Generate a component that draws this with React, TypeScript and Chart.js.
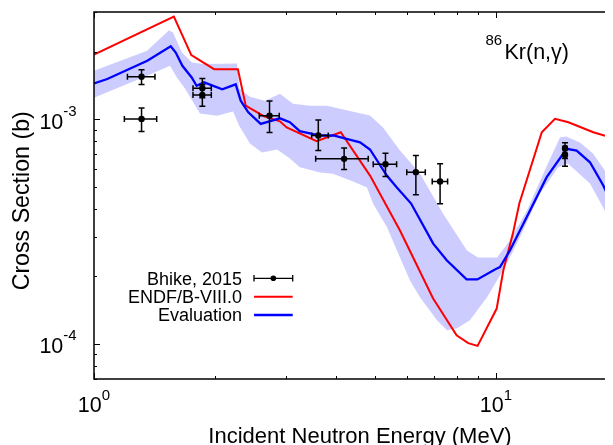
import { useEffect, useRef } from 'react';
import { Chart, registerables } from 'chart.js';

Chart.register(...registerables);

// ---------------- data ----------------
// ENDF/B-VIII.0 (red)
const endfE = [1.0, 1.58, 1.746, 1.99, 2.28, 2.385, 2.443, 2.65, 2.9, 3.015, 3.58, 4.11, 4.86, 5.77, 6.97, 7.98, 8.53, 9.0, 10.04, 10.43, 11.02, 11.43, 13.0, 14.02, 15.14, 17.46, 18.86, 20.0];
const endfXS = [1.94e-3, 2.86e-3, 1.93e-3, 1.67e-3, 1.67e-3, 1.15e-3, 1.12e-3, 1.03e-3, 9.8e-4, 9.2e-4, 7.99e-4, 8.76e-4, 5.62e-4, 3.2e-4, 1.6e-4, 1.096e-4, 1.01e-4, 9.83e-5, 1.44e-4, 2.13e-4, 3.11e-4, 4.22e-4, 8.76e-4, 1.004e-3, 9.7e-4, 8.76e-4, 8.4e-4, 8.4e-4];

// Evaluation (blue)
const evalE = [1.0, 1.079, 1.357, 1.552, 1.597, 1.659, 1.75, 1.80, 1.878, 2.085, 2.252, 2.317, 2.42, 2.598, 2.90, 3.07, 3.25, 3.65, 3.94, 4.25, 4.59, 4.86, 5.35, 5.66, 6.15, 6.98, 7.54, 8.45, 8.99, 9.94, 10.23, 10.83, 11.92, 13.37, 14.99, 15.87, 17.13, 18.49, 19.58, 20.0];
const evalXS = [1.445e-3, 1.51e-3, 1.82e-3, 2.11e-3, 1.98e-3, 1.73e-3, 1.535e-3, 1.41e-3, 1.46e-3, 1.36e-3, 1.43e-3, 1.21e-3, 1.074e-3, 9.54e-4, 1.01e-3, 9.7e-4, 8.85e-4, 8.47e-4, 8.47e-4, 8.18e-4, 7.9e-4, 7.34e-4, 5.62e-4, 4.99e-4, 4.22e-4, 2.8e-4, 2.36e-4, 1.94e-4, 1.94e-4, 2.15e-4, 2.2e-4, 2.61e-4, 3.67e-4, 5.53e-4, 7.39e-4, 7.26e-4, 6.44e-4, 5.08e-4, 4.07e-4, 3.7e-4];

// Evaluation uncertainty band
const bandUpE = [1.0, 1.355, 1.537, 1.572, 1.655, 1.753, 1.867, 2.268, 2.301, 2.443, 2.663, 2.90, 3.126, 3.446, 3.80, 4.33, 4.86, 5.236, 5.77, 6.47, 7.38, 8.47, 9.02, 10.06, 10.83, 11.94, 13.39, 14.43, 14.94, 16.18, 17.43, 18.88, 20.0];
const bandUpXS = [1.645e-3, 2.02e-3, 2.49e-3, 2.43e-3, 1.98e-3, 1.79e-3, 1.76e-3, 1.77e-3, 1.369e-3, 1.26e-3, 1.21e-3, 1.30e-3, 1.174e-3, 1.15e-3, 1.15e-3, 1.09e-3, 1.04e-3, 9.19e-4, 7.26e-4, 5.74e-4, 3.81e-4, 2.61e-4, 2.43e-4, 2.43e-4, 2.89e-4, 3.93e-4, 6.23e-4, 8.29e-4, 8.38e-4, 7.88e-4, 7.04e-4, 5.74e-4, 4.58e-4];
const bandLoE = [1.0, 1.355, 1.546, 1.609, 1.684, 1.835, 2.023, 2.218, 2.295, 2.443, 2.617, 2.853, 3.073, 3.25, 3.65, 3.93, 4.41, 4.776, 4.943, 5.356, 5.77, 6.11, 6.47, 7.13, 7.55, 8.0, 8.61, 9.5, 10.06, 10.65, 11.47, 12.87, 14.27, 15.1, 17.13, 18.46, 20.0];
const bandLoXS = [1.248e-3, 1.563e-3, 1.731e-3, 1.531e-3, 1.369e-3, 1.06e-3, 1.038e-3, 1.082e-3, 9.38e-4, 7.8e-4, 7.11e-4, 7.34e-4, 6.69e-4, 6.12e-4, 5.8e-4, 5.72e-4, 5.29e-4, 4.97e-4, 4.22e-4, 3.31e-4, 2.43e-4, 1.92e-4, 1.616e-4, 1.278e-4, 1.154e-4, 1.178e-4, 1.278e-4, 1.616e-4, 1.92e-4, 2.29e-4, 2.985e-4, 4.68e-4, 6.1e-4, 6.36e-4, 5.18e-4, 4.06e-4, 3.05e-4];

// Bhike, 2015 measurements
const bhikeE = [1.313, 1.313, 1.86, 1.86, 2.733, 3.614, 4.19, 5.31, 6.32, 7.26, 14.85, 14.85];
const bhikeXS = [1.547e-3, 1.004e-3, 1.375e-3, 1.283e-3, 1.038e-3, 8.47e-4, 6.67e-4, 6.31e-4, 5.82e-4, 5.29e-4, 7.43e-4, 6.95e-4];
const bhikeELo = [1.211, 1.19, 1.763, 1.763, 2.577, 3.479, 3.56, 4.95, 5.998, 6.94, 14.7, 14.7];
const bhikeEHi = [1.418, 1.432, 1.958, 1.958, 2.89, 3.826, 4.81, 5.66, 6.67, 7.58, 15.0, 15.0];
const bhikeXSLo = [1.427e-3, 8.82e-4, 1.248e-3, 1.142e-3, 8.73e-4, 7.26e-4, 5.98e-4, 5.57e-4, 4.62e-4, 4.21e-4, 6.7e-4, 6.19e-4];
const bhikeXSHi = [1.662e-3, 1.124e-3, 1.52e-3, 1.426e-3, 1.205e-3, 9.94e-4, 7.46e-4, 7.06e-4, 6.9e-4, 6.34e-4, 7.86e-4, 7.4e-4];

// axes
const X_MIN = 1;
const X_MAX = 20;
const Y_MIN = 7e-5;
const Y_MAX = 3e-3;
const X_DECADES = [0, 1];
const Y_DECADES = [-5, -4, -3];

const legendLabels = ['Bhike, 2015', 'ENDF/B-VIII.0', 'Evaluation'];
const xTitle = 'Incident Neutron Energy (MeV)';
const yTitle = 'Cross Section (b)';
const plotTitleSup = '86';
const plotTitleMain = 'Kr(n,\u03b3)';

const RED = '#ff0000';
const BLUE = '#0000ff';
const BAND = 'rgba(0,0,255,0.2)';
const FONT = '"Liberation Sans", Arial, Helvetica, sans-serif';

const pts = (xs: number[], ys: number[]) => xs.map((x, i) => ({ x, y: ys[i] }));

function drawPow(ctx: CanvasRenderingContext2D, base: string, exp: string, x: number, y: number, align: 'left' | 'center', mainSize: number, supSize: number, raise: number) {
  ctx.font = `${mainSize}px ${FONT}`;
  const w1 = ctx.measureText(base).width;
  ctx.font = `${supSize}px ${FONT}`;
  const w2 = ctx.measureText(exp).width;
  const x0 = align === 'center' ? x - (w1 + w2) / 2 : x;
  ctx.textAlign = 'left';
  ctx.textBaseline = 'alphabetic';
  ctx.font = `${mainSize}px ${FONT}`;
  ctx.fillText(base, x0, y);
  ctx.font = `${supSize}px ${FONT}`;
  ctx.fillText(exp, x0 + w1, y - raise);
}

const decorations = {
  id: 'decorations',
  afterDatasetsDraw(chart: any) {
    const ctx: CanvasRenderingContext2D = chart.ctx;
    const xs = chart.scales.x;
    const ys = chart.scales.y;
    ctx.save();
    ctx.strokeStyle = '#000';
    ctx.lineWidth = 1.5;
    const cap = 3;
    for (let i = 0; i < bhikeE.length; i++) {
      const px = xs.getPixelForValue(bhikeE[i]);
      const py = ys.getPixelForValue(bhikeXS[i]);
      const xl = xs.getPixelForValue(bhikeELo[i]);
      const xh = xs.getPixelForValue(bhikeEHi[i]);
      const yl = ys.getPixelForValue(bhikeXSLo[i]);
      const yh = ys.getPixelForValue(bhikeXSHi[i]);
      ctx.beginPath();
      ctx.moveTo(px, yl); ctx.lineTo(px, yh);
      ctx.moveTo(px - cap, yl); ctx.lineTo(px + cap, yl);
      ctx.moveTo(px - cap, yh); ctx.lineTo(px + cap, yh);
      ctx.moveTo(xl, py); ctx.lineTo(xh, py);
      ctx.moveTo(xl, py - cap); ctx.lineTo(xl, py + cap);
      ctx.moveTo(xh, py - cap); ctx.lineTo(xh, py + cap);
      ctx.stroke();
    }
    ctx.restore();
  },
  afterDraw(chart: any) {
    const ctx: CanvasRenderingContext2D = chart.ctx;
    const a = chart.chartArea;
    const xs = chart.scales.x;
    const ys = chart.scales.y;
    ctx.save();
    ctx.fillStyle = '#000';
    ctx.strokeStyle = '#000';

    // ticks (inward, mirrored)
    ctx.lineWidth = 1;
    ctx.beginPath();
    for (const d of X_DECADES) {
      for (let k = 1; k <= 9; k++) {
        const v = k * Math.pow(10, d);
        if (v < X_MIN || v > X_MAX) continue;
        const p = Math.round(xs.getPixelForValue(v)) + 0.5;
        const len = k === 1 ? 6 : 3;
        ctx.moveTo(p, a.bottom); ctx.lineTo(p, a.bottom - len);
        ctx.moveTo(p, a.top); ctx.lineTo(p, a.top + len);
      }
    }
    for (const d of Y_DECADES) {
      for (let k = 1; k <= 9; k++) {
        const v = k * Math.pow(10, d);
        if (v < Y_MIN * 0.999 || v > Y_MAX * 1.001) continue;
        const p = Math.round(ys.getPixelForValue(v)) + 0.5;
        const len = k === 1 ? 6 : 3;
        ctx.moveTo(a.left, p); ctx.lineTo(a.left + len, p);
        ctx.moveTo(a.right, p); ctx.lineTo(a.right - len, p);
      }
    }
    ctx.stroke();

    // frame
    ctx.lineWidth = 1.5;
    ctx.strokeRect(a.left, a.top, a.right - a.left, a.bottom - a.top);

    // tick labels
    for (const d of X_DECADES) {
      const v = Math.pow(10, d);
      if (v < X_MIN || v > X_MAX) continue;
      drawPow(ctx, '10', String(d), xs.getPixelForValue(v), a.bottom + 32.7, 'center', 21.5, 15, 12);
    }
    for (const d of Y_DECADES) {
      const v = Math.pow(10, d);
      if (v < Y_MIN || v > Y_MAX) continue;
      drawPow(ctx, '10', String(d), 31.4, ys.getPixelForValue(v) + 9.3, 'left', 21.5, 15, 13);
    }

    // axis titles
    ctx.font = `22px ${FONT}`;
    ctx.textAlign = 'center';
    ctx.textBaseline = 'alphabetic';
    ctx.fillText(xTitle, 352, 435.3);

    ctx.save();
    ctx.translate(14.5, 192.8);
    ctx.rotate(-Math.PI / 2);
    ctx.font = `23.2px ${FONT}`;
    ctx.textBaseline = 'middle';
    ctx.fillText(yTitle, 0, 0);
    ctx.restore();

    // plot title 86Kr(n,γ)
    ctx.textAlign = 'left';
    ctx.textBaseline = 'alphabetic';
    ctx.font = `15px ${FONT}`;
    ctx.fillText(plotTitleSup, 477.5, 37);
    ctx.font = `21.5px ${FONT}`;
    ctx.fillText(plotTitleMain, 496.5, 51);

    // legend
    const rows = [270.3, 288.7, 307];
    const tx = 234;
    const s0 = 246;
    const s1 = 284.7;
    ctx.font = `18px ${FONT}`;
    ctx.textAlign = 'right';
    legendLabels.forEach((lbl, i) => {
      ctx.fillStyle = '#000';
      ctx.fillText(lbl, tx, rows[i] + 6.4);
    });
    // sample: errorbar
    ctx.strokeStyle = '#000';
    ctx.lineWidth = 1.3;
    ctx.beginPath();
    ctx.moveTo(s0, rows[0]); ctx.lineTo(s1, rows[0]);
    ctx.moveTo(s0, rows[0] - 3.3); ctx.lineTo(s0, rows[0] + 3.3);
    ctx.moveTo(s1, rows[0] - 3.3); ctx.lineTo(s1, rows[0] + 3.3);
    ctx.stroke();
    ctx.beginPath();
    ctx.arc((s0 + s1) / 2, rows[0], 2.8, 0, Math.PI * 2);
    ctx.fillStyle = '#000';
    ctx.fill();
    ctx.lineWidth = 2;
    ctx.strokeStyle = RED;
    ctx.beginPath();
    ctx.moveTo(s0, rows[1]); ctx.lineTo(s1, rows[1]);
    ctx.stroke();
    ctx.lineWidth = 2.3;
    ctx.strokeStyle = BLUE;
    ctx.beginPath();
    ctx.moveTo(s0, rows[2]); ctx.lineTo(s1, rows[2]);
    ctx.stroke();

    ctx.restore();
  },
};

export default function App() {
  const ref = useRef<HTMLCanvasElement>(null);
  useEffect(() => {
    const canvas = ref.current;
    if (!canvas) return;
    const chart = new Chart(canvas, {
      type: 'line',
      data: {
        datasets: [
          {
            label: legendLabels[0],
            data: pts(bhikeE, bhikeXS),
            showLine: false,
            pointRadius: 3.2,
            pointBackgroundColor: '#000',
            pointBorderColor: '#000',
            pointBorderWidth: 0,
          },
          {
            label: legendLabels[2],
            data: pts(evalE, evalXS),
            borderColor: BLUE,
            borderWidth: 2.3,
            pointRadius: 0,
            fill: false,
            tension: 0,
          },
          {
            label: legendLabels[1],
            data: pts(endfE, endfXS),
            borderColor: RED,
            borderWidth: 2,
            pointRadius: 0,
            fill: false,
            tension: 0,
          },
          {
            label: 'band upper',
            data: pts(bandUpE, bandUpXS),
            borderWidth: 0,
            borderColor: 'rgba(0,0,0,0)',
            backgroundColor: BAND,
            pointRadius: 0,
            fill: '+1',
            tension: 0,
          },
          {
            label: 'band lower',
            data: pts(bandLoE, bandLoXS),
            borderWidth: 0,
            borderColor: 'rgba(0,0,0,0)',
            pointRadius: 0,
            fill: false,
            tension: 0,
          },
        ],
      },
      options: {
        responsive: false,
        animation: false,
        devicePixelRatio: 1,
        layout: { padding: { left: 0, top: 4, right: 31, bottom: 0 }, autoPadding: false },
        scales: {
          x: {
            type: 'logarithmic',
            min: X_MIN,
            max: X_MAX,
            ticks: { display: false },
            grid: { display: false },
            border: { display: false },
            afterFit: (s: any) => { s.height = 66; },
          },
          y: {
            type: 'logarithmic',
            min: Y_MIN,
            max: Y_MAX,
            ticks: { display: false },
            grid: { display: false },
            border: { display: false },
            afterFit: (s: any) => { s.width = 86; },
          },
        },
        plugins: {
          legend: { display: false },
          tooltip: { enabled: false },
        },
      } as any,
      plugins: [decorations],
    });
    return () => chart.destroy();
  }, []);
  return (
    <div style={{ width: 605, height: 437, overflow: 'hidden', position: 'relative' }}>
      <canvas ref={ref} width={640} height={437} style={{ display: 'block' }} />
    </div>
  );
}
